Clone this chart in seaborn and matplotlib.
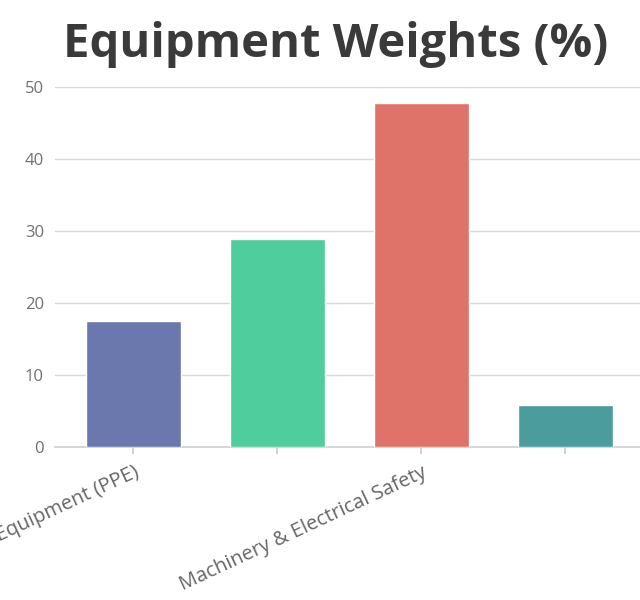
import matplotlib
matplotlib.use("Agg")
import matplotlib.pyplot as plt
import seaborn as sns
import pandas as pd

# dane wykresu
categories = [
    "Personal Protective Equipment (PPE)",
    "Fire Safety Equipment",
    "Machinery & Electrical Safety",
    "First Aid Supplies",
]
weights = [17.5, 28.9, 47.8, 5.8]
bar_colors = ["#6b78ad", "#4fcd9d", "#e07369", "#4a9c9d"]
y_ticks = [0, 10, 20, 30, 40, 50]
# co druga etykieta jest ukryta jak w oryginale
shown_labels = [categories[0], "", categories[2], ""]

df = pd.DataFrame({"category": categories, "weight": weights})

sns.set_theme(style="white")
plt.rcParams["font.family"] = ["Open Sans", "DejaVu Sans"]

fig = plt.figure(figsize=(6.4, 6.0), dpi=100)
ax = fig.add_axes([0.086, 0.255, 0.914, 0.6])

sns.barplot(data=df, x="category", y="weight", hue="category",
            palette=bar_colors, width=0.66, legend=False, ax=ax,
            saturation=1, zorder=3)

ax.set_ylim(0, 50)
ax.set_xlim(-0.545, 3.52)
ax.set_yticks(y_ticks)
ax.yaxis.grid(True, color="#d9d9d9", linewidth=1, zorder=0)
ax.set_xlabel("")
ax.set_ylabel("")

for side in ["top", "right", "left"]:
    ax.spines[side].set_visible(False)
ax.spines["bottom"].set_color("#cfcfcf")
ax.spines["bottom"].set_linewidth(1.2)

ax.set_xticks(range(len(categories)))
ax.set_xticklabels(shown_labels, rotation=25, ha="right",
                   rotation_mode="anchor", fontsize=14.5, color="#666666")
ax.tick_params(axis="x", length=5, color="#cfcfcf", bottom=True, pad=6)
ax.tick_params(axis="y", length=0, labelsize=12, labelcolor="#707070", pad=8)

fig.text(0.525, 0.925, "Equipment Weights (%)", ha="center", va="center",
         fontsize=34, fontweight="bold", color="#3a3a3a")

fig.savefig("out.png", dpi=100, facecolor="white")
